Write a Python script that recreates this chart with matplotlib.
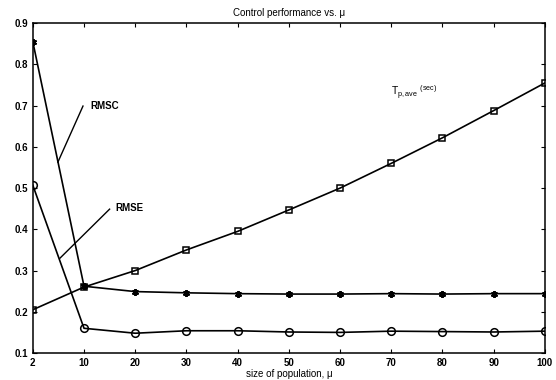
import matplotlib.pyplot as plt
import numpy as np

plt.rcParams['font.family'] = ['Liberation Sans', 'DejaVu Sans']

# population sizes (plotted at equal spacing)
mu = ['2', '10', '20', '30', '40', '50', '60', '70', '80', '90', '100']
t_ave = [0.205, 0.260, 0.300, 0.350, 0.395, 0.447, 0.500, 0.560, 0.622, 0.688, 0.755]
rmsc = [0.855, 0.262, 0.249, 0.246, 0.244, 0.243, 0.243, 0.244, 0.243, 0.244, 0.244]
rmse = [0.507, 0.160, 0.148, 0.154, 0.154, 0.151, 0.150, 0.153, 0.152, 0.151, 0.153]

x = np.arange(len(mu))

fig = plt.figure(figsize=(5.56, 3.8), dpi=100)
ax = fig.add_axes([0.059, 0.071, 0.921, 0.868])

ax.plot(x, t_ave, 'k-', lw=1.2, marker='s', ms=5, mfc='none', mew=1.1)
ax.plot(x, rmsc, 'k-', lw=1.2, marker=(6, 2, 0), ms=5, mew=1.4)
ax.plot(x, rmse, 'k-', lw=1.2, marker='o', ms=5.5, mfc='none', mew=1.1)

# curve labels with leader lines
ax.plot([0.98, 0.49], [0.699, 0.563], 'k-', lw=1.0)
ax.text(1.12, 0.70, 'RMSC', fontsize=7, fontweight='bold', va='center')
ax.plot([1.50, 0.53], [0.449, 0.330], 'k-', lw=1.0)
ax.text(1.62, 0.452, 'RMSE', fontsize=7, fontweight='bold', va='center')
ax.text(7.0, 0.73, r'T$_{\mathregular{p,ave}}$ $^{\mathregular{(sec)}}$', fontsize=7.5, va='center')

ax.set_xlim(0, 10)
ax.set_ylim(0.1, 0.9)
ax.set_xticks(x)
ax.set_xticklabels(mu)
ax.set_yticks(np.arange(0.1, 0.91, 0.1))
ax.set_yticklabels([f'{v:.1f}' for v in np.arange(0.1, 0.91, 0.1)])
ax.tick_params(direction='in', length=3, labelsize=7, width=0.8)
for lab in ax.get_xticklabels() + ax.get_yticklabels():
    lab.set_fontweight('bold')
ax.tick_params(top=True, right=True)
for s in ax.spines.values():
    s.set_linewidth(1.1)

ax.set_title('Control performance vs. \u03bc', fontsize=7, pad=5)
ax.set_xlabel('size of population, \u03bc', fontsize=7, labelpad=1)

fig.savefig('out.png', dpi=100)
